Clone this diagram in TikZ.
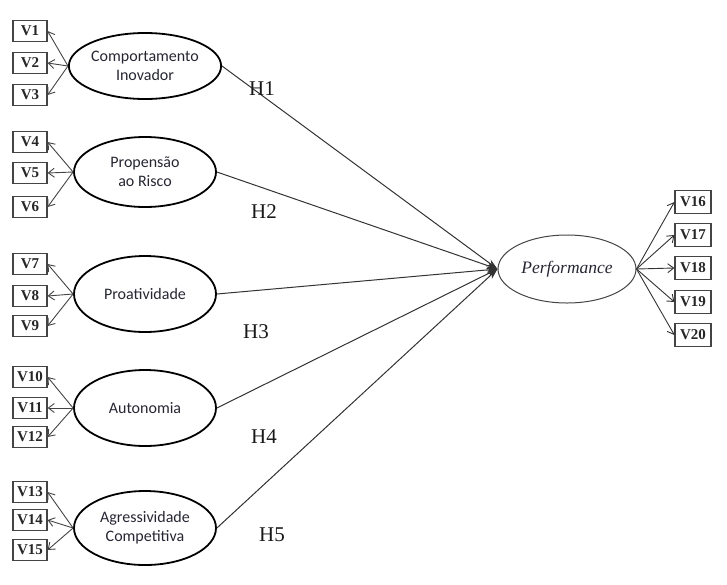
\documentclass[tikz,border=0pt]{standalone}
\usepackage{fontspec}
\setmainfont{Liberation Serif}
\newfontfamily\calib{Carlito}
\newfontfamily\timesit{Liberation Serif}
\usetikzlibrary{arrows.meta,shapes.geometric}
\definecolor{linec}{HTML}{444444}
\definecolor{txtc}{HTML}{262633}
\tikzset{
  lat/.style={ellipse,draw=black,line width=1.8pt,minimum width=142pt,minimum height=68pt,inner sep=0pt,align=center,font=\calib\fontsize{16}{19}\selectfont,text=txtc},
  perf/.style={ellipse,draw=linec,line width=1pt,minimum width=138pt,minimum height=68pt,inner sep=0pt,font=\timesit\itshape\fontsize{17.5}{20}\selectfont,text=txtc},
  obs/.style={rectangle,draw=linec,line width=1.2pt,minimum width=34pt,minimum height=21pt,inner sep=0pt,font=\rmfamily\bfseries\fontsize{15}{18}\selectfont,text=black!85},
  obsr/.style={obs,minimum width=36pt,minimum height=23pt},
  load/.style={draw=linec,line width=0.9pt,-{Straight Barb[length=6pt,width=9pt]}},
  path/.style={draw=black!80,line width=1pt,-{Stealth[length=11pt,width=7pt]}},
  hlab/.style={font=\rmfamily\fontsize{21}{25}\selectfont,text=black!90}
}
\begin{document}
\begin{tikzpicture}[x=1pt,y=-1pt]
\useasboundingbox (0,0) rectangle (727,584);
% latent variables
\node[lat,minimum height=66pt] (e1) at (145,66) {Comportamento\\Inovador};
\node[lat,minimum height=70pt] (e2) at (145,172) {Propensão\\ao Risco};
\node[lat,minimum height=76pt] (e3) at (145,294) {Proatividade};
\node[lat,minimum height=76pt] (e4) at (145,408) {Autonomia};
\node[lat,minimum height=74pt] (e5) at (145,528) {Agressividade\\Competitiva};
\node[perf] (p) at (567,269) {Performance};
% left indicators
\foreach \n/\y in {1/31,2/63,3/95,4/142,5/173,6/207,7/264,8/296,9/326,10/377,11/408,12/437,13/492,14/520,15/550}{
  \node[obs] (v\n) at (30,\y) {V\n};
}
% right indicators
\foreach \n/\y in {16/202,17/235,18/268,19/302,20/335}{
  \node[obsr] (v\n) at (693,\y) {V\n};
}
% loadings
\foreach \e/\a/\b/\c in {e1/1/2/3,e2/4/5/6,e3/7/8/9,e4/10/11/12,e5/13/14/15}{
  \draw[load] (\e.west) -- (v\a.east);
  \draw[load] (\e.west) -- (v\b.east);
  \draw[load] (\e.west) -- (v\c.east);
}
\foreach \n in {16,17,18,19,20}{
  \draw[load,draw=black!80] (p.east) -- (v\n.west);
}
% structural paths
\foreach \e in {e1,e2,e3,e4,e5}{
  \draw[path] (\e.east) -- (p.west);
}
% hypothesis labels
\node[hlab] (h1) at (262,89) {H1};
\node[hlab] (h2) at (264,212) {H2};
\node[hlab] (h3) at (256,332) {H3};
\node[hlab] (h4) at (264,437) {H4};
\node[hlab] (h5) at (272,535) {H5};
\end{tikzpicture}
\end{document}
